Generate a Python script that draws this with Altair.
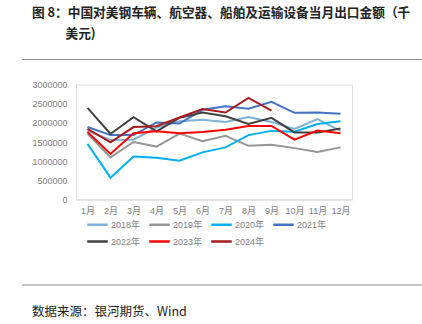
import altair as alt
import pandas as pd

months = ["1月", "2月", "3月", "4月", "5月", "6月", "7月", "8月", "9月", "10月", "11月", "12月"]
years = ["2018年", "2019年", "2020年", "2021年", "2022年", "2023年", "2024年"]
colors = ["#7FB2D6", "#969696", "#00B0F0", "#4472C4", "#404040", "#FF0000", "#A61C1C"]

v2018 = [1800000, 1550000, 1560000, 1880000, 2040000, 2080000, 2020000, 2150000, 2020000, 1840000, 2100000, 1790000]
v2019 = [1720000, 1100000, 1500000, 1380000, 1720000, 1520000, 1660000, 1400000, 1430000, 1340000, 1240000, 1360000]
v2020 = [1450000, 570000, 1120000, 1090000, 1010000, 1230000, 1360000, 1680000, 1790000, 1770000, 1970000, 2040000]
v2021 = [1890000, 1680000, 1680000, 2010000, 1980000, 2340000, 2430000, 2370000, 2550000, 2260000, 2270000, 2240000]
v2022 = [2390000, 1710000, 2150000, 1780000, 2130000, 2270000, 2170000, 1970000, 2130000, 1750000, 1750000, 1850000]
v2023 = [1760000, 1190000, 1730000, 1780000, 1730000, 1760000, 1820000, 1920000, 1920000, 1560000, 1800000, 1730000]
v2024 = [1840000, 1490000, 1890000, 1910000, 2140000, 2360000, 2270000, 2650000, 2320000]

series = [v2018, v2019, v2020, v2021, v2022, v2023, v2024]
y_ticks = [0, 500000, 1000000, 1500000, 2000000, 2500000, 3000000]

title1 = "图 8：中国对美钢车辆、航空器、船舶及运输设备当月出口金额（千"
title2 = "美元)"
footer = "数据来源：银河期货、Wind"

rows = []
for yr, vals in zip(years, series):
    for m, v in zip(months, vals):
        rows.append({"month": m, "year": yr, "value": v})
df = pd.DataFrame(rows)

FONT = "Liberation Sans, Noto Sans CJK SC"
CJK = "Noto Sans CJK SC"

lines = alt.Chart(df).mark_line(strokeWidth=2).encode(
    x=alt.X("month:N", sort=months, title=None,
            axis=alt.Axis(labelAngle=0, ticks=False, domainColor="#D9D9D9", domainWidth=1,
                          labelColor="#7F7F7F", labelFontSize=9, labelFont=FONT, labelPadding=7)),
    y=alt.Y("value:Q", title=None, scale=alt.Scale(domain=[0, 3000000], nice=False),
            axis=alt.Axis(values=y_ticks, format="d", grid=False, domain=False, ticks=False,
                          labelColor="#7F7F7F", labelFontSize=9, labelFont=FONT, labelPadding=9)),
    color=alt.Color("year:N", sort=years, scale=alt.Scale(domain=years, range=colors), title=None,
                    legend=alt.Legend(orient="none", legendX=10, legendY=128.5, columns=4,
                                      direction="horizontal",
                                      symbolType="stroke", symbolSize=420, symbolStrokeWidth=2.5,
                                      labelFontSize=9, labelColor="#7F7F7F", labelFont=FONT,
                                      labelOffset=2, columnPadding=3, rowPadding=-3, padding=0)),
)

txt = pd.DataFrame({"t1": [title1], "t2": [title2], "f": [footer]})
base_t = alt.Chart(txt)
t1 = base_t.mark_text(align="left", baseline="middle", font=CJK, fontSize=12.7, fontWeight="bold",
                      color="#222222").encode(text="t1:N", x=alt.value(-44), y=alt.value(-72))
t2 = base_t.mark_text(align="left", baseline="middle", font=CJK, fontSize=12.7, fontWeight="bold",
                      color="#222222").encode(text="t2:N", x=alt.value(-10.5), y=alt.value(-50.5))
ft = base_t.mark_text(align="left", baseline="middle", font=CJK, fontSize=12.5,
                      color="#222222").encode(text="f:N", x=alt.value(-44), y=alt.value(227))
r1 = base_t.mark_rule(color="#8C8C8C", strokeWidth=1).encode(
    x=alt.value(-54), x2=alt.value(346), y=alt.value(-25))
r2 = base_t.mark_rule(color="#8C8C8C", strokeWidth=1).encode(
    x=alt.value(-54), x2=alt.value(346), y=alt.value(200.5))

chart = alt.layer(lines, t1, t2, ft, r1, r2).properties(
    width=276, height=115,
    autosize=alt.AutoSizeParams(type="none"),
    padding={"left": 76, "top": 84.5, "right": 70, "bottom": 124.5},
).configure_view(stroke=None).configure(background="white")

chart.save("out.html", embed_options={"renderer": "svg", "actions": False})
